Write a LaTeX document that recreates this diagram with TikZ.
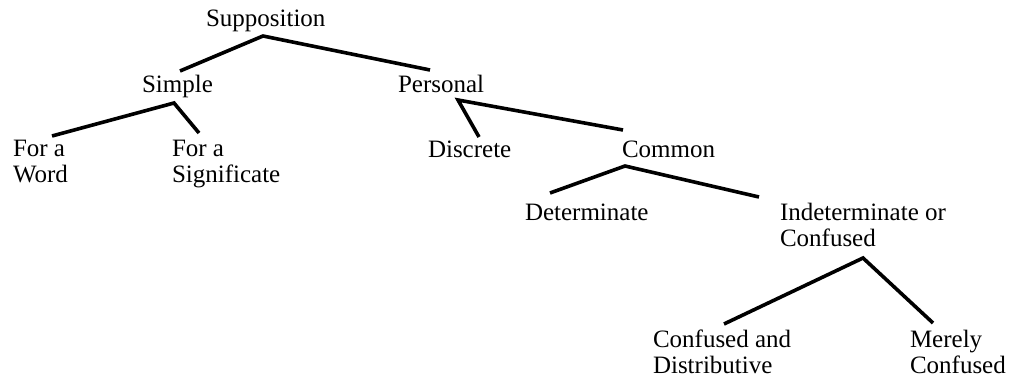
\documentclass[tikz,border=0pt]{standalone}
\usepackage{fontspec}
\setmainfont{Liberation Serif}
\begin{document}
\begin{tikzpicture}[x=1pt,y=-1pt,
  lbl/.style={anchor=base west,inner sep=0pt,outer sep=0pt,font=\fontsize{25}{26}\selectfont},
  branch/.style={line width=3.6pt,line join=miter}]
\useasboundingbox[fill=white] (0,0) rectangle (1016,382);
\newcommand{\twol}[2]{\begin{tabular}[t]{@{}l@{}}#1\\#2\end{tabular}}
% labels
\node[lbl] (supp) at (206,27) {Supposition};
\node[lbl] (simple) at (142,93) {Simple};
\node[lbl] (personal) at (398,93) {Personal};
\node[lbl] (word) at (13,157) {\twol{For a}{Word}};
\node[lbl] (signif) at (172,157) {\twol{For a}{Significate}};
\node[lbl] (discrete) at (428,158) {Discrete};
\node[lbl] (common) at (622,158) {Common};
\node[lbl] (determ) at (525,220) {Determinate};
\node[lbl] (indet) at (780,220) {\twol{Indeterminate or}{Confused}};
\node[lbl] (distr) at (653,347) {\twol{Confused and}{Distributive}};
\node[lbl] (merely) at (910,347) {\twol{Merely}{Confused}};
% connector ends
\coordinate (supp-a) at (263,36);
\coordinate (simple-t) at (180,71);
\coordinate (personal-t) at (430,70);
\coordinate (simple-a) at (174,103);
\coordinate (word-t) at (52,136);
\coordinate (signif-t) at (199,133);
\coordinate (personal-a) at (458,100);
\coordinate (discrete-t) at (479,137);
\coordinate (common-t) at (623,130);
\coordinate (common-a) at (625,166);
\coordinate (determ-t) at (550,193);
\coordinate (indet-t) at (759,197);
\coordinate (indet-a) at (863,258);
\coordinate (distr-t) at (724,324);
\coordinate (merely-t) at (933,323);
% connectors
\draw[branch] (simple-t) -- (supp-a) -- (personal-t);
\draw[branch] (word-t) -- (simple-a) -- (signif-t);
\draw[branch] (discrete-t) -- (personal-a) -- (common-t);
\draw[branch] (determ-t) -- (common-a) -- (indet-t);
\draw[branch] (distr-t) -- (indet-a) -- (merely-t);
\end{tikzpicture}
\end{document}
